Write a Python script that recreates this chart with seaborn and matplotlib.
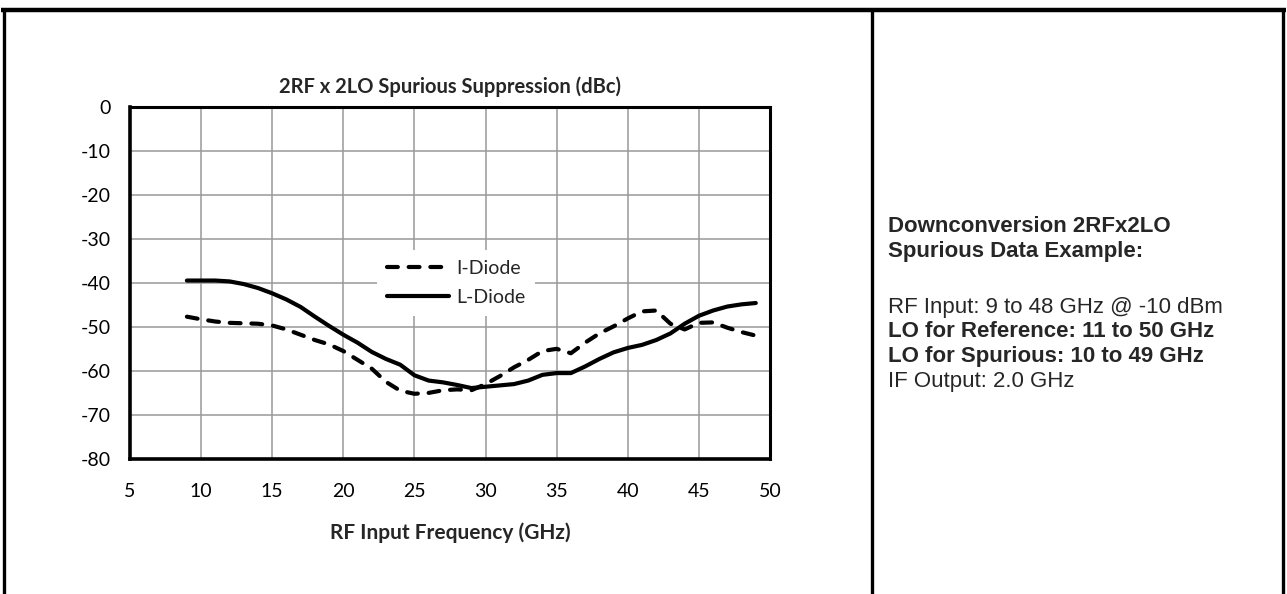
import matplotlib
matplotlib.use("Agg")
import matplotlib.pyplot as plt
from matplotlib.lines import Line2D
import seaborn as sns
import pandas as pd

# ---- data ----
freq_ghz = list(range(9, 50))
i_diode = [-47.7, -48.3, -48.8, -49.1, -49.2, -49.3, -49.7, -50.6, -51.8, -53.0,
           -54.0, -55.5, -57.5, -59.5, -62.5, -64.5, -65.2, -65.0, -64.4, -64.2,
           -64.4, -63.0, -61.2, -59.2, -57.5, -55.5, -55.0, -56.0, -53.6, -51.5,
           -49.9, -48.1, -46.5, -46.3, -49.3, -50.6, -49.1, -49.0, -50.2, -51.2,
           -52.0]
l_diode = [-39.5, -39.5, -39.5, -39.7, -40.3, -41.2, -42.4, -43.8, -45.5, -47.7,
           -49.8, -51.8, -53.6, -55.7, -57.3, -58.6, -61.0, -62.2, -62.6, -63.2,
           -63.9, -63.6, -63.3, -63.0, -62.2, -60.9, -60.5, -60.5, -59.0, -57.3,
           -55.8, -54.8, -54.1, -53.0, -51.5, -49.3, -47.5, -46.3, -45.4, -44.9,
           -44.6]
series_names = ["I-Diode", "L-Diode"]
x_ticks = [5, 10, 15, 20, 25, 30, 35, 40, 45, 50]
y_ticks = [0, -10, -20, -30, -40, -50, -60, -70, -80]
title = "2RF x 2LO Spurious Suppression (dBc)"
x_label = "RF Input Frequency (GHz)"
side_lines = [
    ("Downconversion 2RFx2LO", "bold"),
    ("Spurious Data Example:", "bold"),
    ("RF Input: 9 to 48 GHz @ -10 dBm", "normal"),
    ("LO for Reference: 11 to 50 GHz", "bold"),
    ("LO for Spurious: 10 to 49 GHz", "bold"),
    ("IF Output: 2.0 GHz", "normal"),
]
side_baselines = [232, 257, 313, 337, 362, 387]

df = pd.DataFrame({
    "freq": freq_ghz * 2,
    "val": i_diode + l_diode,
    "diode": [series_names[0]] * len(freq_ghz) + [series_names[1]] * len(freq_ghz),
})

sns.set_theme(style="white")
plt.rcParams["font.family"] = ["Lato", "DejaVu Sans"]
plt.rcParams["axes.unicode_minus"] = False

W, H = 1287, 594
fig = plt.figure(figsize=(W / 100, H / 100), dpi=100)
fig.patch.set_facecolor("white")

L, R, T, B = 130, 770, 106.5, 459
ax = fig.add_axes([L / W, 1 - B / H, (R - L) / W, (B - T) / H])

sns.lineplot(data=df, x="freq", y="val", style="diode",
             dashes={"I-Diode": (2.6, 2.6), "L-Diode": ""},
             color="black", linewidth=3.0, errorbar=None, legend=False,
             ax=ax, zorder=3)
for ln, name in zip(ax.lines, series_names):
    ln.set_label(name)
    ln.set_dash_capstyle("round")
    ln.set_solid_capstyle("round")

ax.set_xlim(5, 50)
ax.set_ylim(-80, 0)
ax.set_xticks(x_ticks)
ax.set_yticks(y_ticks)
ax.grid(True, color="#999999", linewidth=1.1, zorder=0)
ax.set_axisbelow(True)
for s in ["left", "bottom"]:
    ax.spines[s].set_linewidth(2.6)
for s in ["top", "right"]:
    ax.spines[s].set_linewidth(2.2)
for s in ax.spines.values():
    s.set_color("black")
    s.set_zorder(5)
ax.tick_params(axis="both", length=0, labelsize=14, colors="black")
ax.tick_params(axis="y", pad=14)
ax.tick_params(axis="x", pad=17.5)
ax.set_xlabel(x_label, fontsize=15, fontweight="bold", labelpad=16)
ax.set_ylabel("")
ax.set_title(title, fontsize=14.5, fontweight="bold", pad=10)

leg = ax.legend(loc="upper left", bbox_to_anchor=((377 - L) / (R - L), (B - 250) / (B - T)),
                borderaxespad=0, frameon=True, fontsize=14, handlelength=3.2,
                handletextpad=0.35, labelspacing=0.62, borderpad=0.5)
leg.get_frame().set_facecolor("white")
leg.get_frame().set_edgecolor("none")
leg.get_frame().set_alpha(1)
leg.set_zorder(4)

# table borders
def fline(x0, y0, x1, y1, lw):
    fig.add_artist(Line2D([x0 / W, x1 / W], [1 - y0 / H, 1 - y1 / H],
                          transform=fig.transFigure, color="black", linewidth=lw,
                          solid_capstyle="butt"))

fline(1, 9.5, 1286, 9.5, 3.2)
fline(3.5, 8, 3.5, 594, 2.4)
fline(871.5, 8, 871.5, 594, 2.4)
fline(1282.5, 8, 1282.5, 594, 2.4)

side_font = ["Liberation Sans", "DejaVu Sans"]
for (txt, wt), yb in zip(side_lines, side_baselines):
    fig.text(888 / W, 1 - yb / H, txt, fontsize=16, fontweight=wt,
             family=side_font, va="baseline", ha="left")

fig.savefig("out.png", dpi=100, facecolor="white")
